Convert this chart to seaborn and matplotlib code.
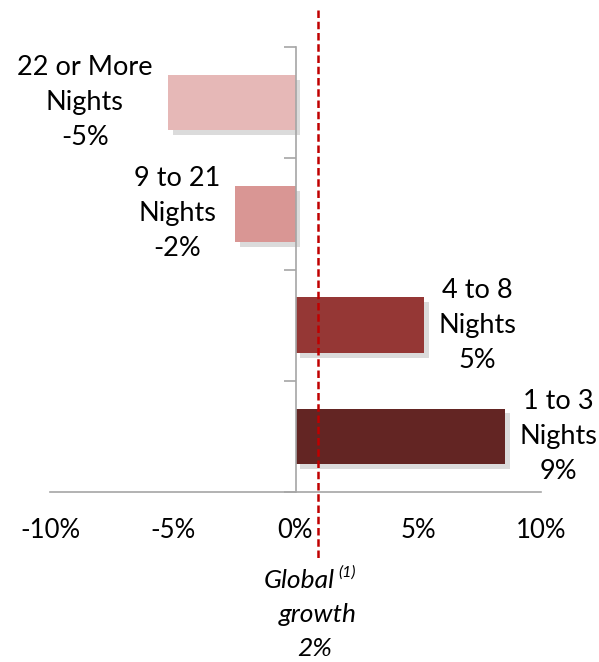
import matplotlib
matplotlib.use("Agg")
import matplotlib.pyplot as plt
import matplotlib.patheffects as pe
import seaborn as sns
import pandas as pd

categories = ["22 or More\nNights", "9 to 21\nNights", "4 to 8\nNights", "1 to 3\nNights"]
values = [-5.2, -2.45, 5.25, 8.55]
value_labels = ["-5%", "-2%", "5%", "9%"]
colors = ["#E6B8B7", "#D99694", "#953735", "#632523"]
xticks = [-10, -5, 0, 5, 10]
xtick_labels = ["-10%", "-5%", "0%", "5%", "10%"]
global_growth_pos = 0.9
global_growth_label = "2%"

sns.set_theme(style="white")
plt.rcParams["font.family"] = ["Lato", "DejaVu Sans"]

FS = 19.5

df = pd.DataFrame({"cat": categories, "val": values})

fig = plt.figure(figsize=(5.99, 6.62), dpi=100)
ax = fig.add_axes([50/599, 1-492/662, (541-50)/599, (492-47)/662])

sns.barplot(data=df, y="cat", x="val", hue="cat", palette=colors, orient="h",
            width=0.5, legend=False, ax=ax, saturation=1)

for p in ax.patches:
    p.set_edgecolor("none")
    p.set_path_effects([pe.SimplePatchShadow(offset=(3.5, -3.5), shadow_rgbFace="#9a9a9a", alpha=0.35),
                        pe.Normal()])

ax.set_xlim(-10, 10)
ax.set_ylim(3.5, -0.5)
ax.set_xticks(xticks)
ax.set_xticklabels(xtick_labels, fontsize=18.5)
ax.set_yticks([-0.5, 0.5, 1.5, 2.5, 3.5])
ax.set_yticklabels([])
ax.set_xlabel("")
ax.set_ylabel("")

for s in ["top", "right"]:
    ax.spines[s].set_visible(False)
ax.spines["left"].set_position(("data", 0))
for s in ["left", "bottom"]:
    ax.spines[s].set_color("#A6A6A6")
    ax.spines[s].set_linewidth(1.2)
ax.tick_params(axis="x", direction="out", length=8, width=1.2, color="#A6A6A6", pad=11, labelcolor="black")
ax.tick_params(axis="y", direction="out", length=9, width=1.2, color="#A6A6A6", left=True)
ax.spines["left"].set_zorder(5)

# Bar labels
for i, (cat, v, lab) in enumerate(zip(categories, values, value_labels)):
    txt = cat + "\n" + lab
    if v < 0:
        ax.annotate(txt, xy=(v, i), xytext=(-11, 0), textcoords="offset points",
                    ha="right", va="center", multialignment="center",
                    fontsize=FS, linespacing=1.5, color="black")
    else:
        ax.annotate(txt, xy=(v, i), xytext=(10, 0), textcoords="offset points",
                    ha="left", va="center", multialignment="center",
                    fontsize=FS, linespacing=1.5, color="black")

# Global growth dashed line
ax.plot([global_growth_pos, global_growth_pos], [-0.83, 4.12], color="#C00000",
        linestyle=(0, (3, 1.5)), linewidth=1.8, clip_on=False, zorder=6)

fx = ax.transData.transform((global_growth_pos, 0))[0] / fig.bbox.width
fig.text(fx - 0.03, 1 - 581/662, "Global", ha="center", va="center", fontsize=19,
         style="italic", color="black")
fig.text(fx + 0.035, 1 - 573/662, "(1)", ha="left", va="center", fontsize=11.5,
         style="italic", color="black")
fig.text(fx, 1 - 615/662, "growth", ha="center", va="center", fontsize=19,
         style="italic", color="black")
fig.text(fx - 0.005, 1 - 649/662, global_growth_label, ha="center", va="center", fontsize=19,
         style="italic", color="black")

fig.savefig("out.png", dpi=100)
